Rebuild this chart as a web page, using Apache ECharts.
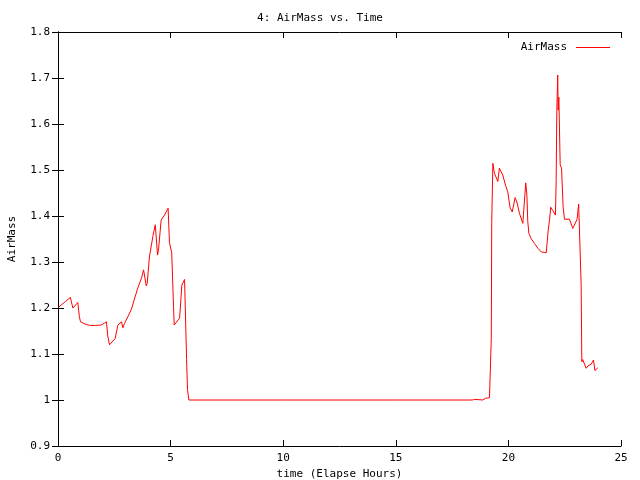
<!DOCTYPE html>
<html><head><meta charset="utf-8">
<script src="https://cdn.jsdelivr.net/npm/echarts@6/dist/echarts.min.js"></script>
<style>html,body{margin:0;padding:0;background:#fff}#c{width:640px;height:480px}</style>
</head><body><div id="c"></div>
<script>
const hours = [0.02,0.33,0.55,0.66,0.88,0.95,1.0,1.25,1.45,1.5,1.62,1.92,2.06,2.15,2.21,2.29,2.54,2.66,2.82,2.88,2.95,3.25,3.54,3.72,3.8,3.92,3.96,4.06,4.21,4.32,4.42,4.46,4.58,4.73,4.89,4.95,5.05,5.13,5.16,5.4,5.5,5.62,5.65,5.71,5.75,5.81,
  10.0,15.0,18.4,18.49,18.55,18.86,18.98,19.16,19.24,19.26,19.31,19.38,19.53,19.6,19.75,19.87,19.97,20.08,20.17,20.3,20.39,20.49,20.64,20.68,20.77,20.82,20.86,20.91,21.01,21.16,21.31,21.46,21.68,21.77,21.83,21.88,21.97,22.09,22.12,22.15,22.19,22.21,22.24,22.30,22.36,22.43,22.49,22.71,22.76,22.86,23.05,23.12,23.2,23.23,23.26,23.3,23.45,23.53,23.68,23.78,23.84,23.97];
const airmass = [1.2015,1.214,1.223,1.20,1.212,1.181,1.170,1.164,1.162,1.166,1.162,1.163,1.167,1.17,1.139,1.12,1.134,1.163,1.17,1.157,1.166,1.196,1.243,1.267,1.283,1.248,1.253,1.311,1.355,1.381,1.315,1.325,1.391,1.402,1.417,1.342,1.32,1.203,1.163,1.178,1.25,1.262,1.204,1.088,1.023,1.0,
  1.0,1.0,1.0,1.0014,1.0,1.0,1.0036,1.005,1.134,1.386,1.5145,1.493,1.475,1.504,1.489,1.467,1.453,1.417,1.409,1.44,1.428,1.406,1.384,1.38,1.472,1.446,1.388,1.362,1.351,1.34,1.33,1.322,1.32,1.37,1.393,1.419,1.412,1.402,1.477,1.629,1.7065,1.63,1.658,1.511,1.504,1.42,1.393,1.393,1.395,1.373,1.393,1.426,1.422,1.252,1.083,1.088,1.069,1.074,1.078,1.087,1.064,1.07];
const xTicks = [0,5,10,15,20,25];
const yTicks = [0.9,1.0,1.1,1.2,1.3,1.4,1.5,1.6,1.7,1.8];

const FONT = 'DejaVu Sans Mono';
const chart = echarts.init(document.getElementById('c'));
const data = hours.map((h,i)=>[h, airmass[i]]);
const tick = (len)=>({show:true, inside:true, length:len, lineStyle:{color:'#000',width:1}});
chart.setOption({
  animation:false,
  textStyle:{fontFamily:FONT},
  title:{text:'4: AirMass vs. Time', left:'center', top:8,
    textStyle:{fontFamily:FONT, fontSize:11, fontWeight:'normal', color:'#000'}},
  legend:{data:[{name:'AirMass', icon:'rect'}], right:25, top:37, align:'right',
    itemWidth:34, itemHeight:1, itemGap:6,
    textStyle:{fontFamily:FONT, fontSize:11, color:'#000', padding:[0,4,0,0]}},
  grid:{left:58, right:19, top:32, bottom:34, containLabel:false, outerBoundsMode:'none'},
  xAxis:[{type:'value', min:0, max:25, interval:5, position:'bottom',
    name:'time (Elapse Hours)', nameLocation:'middle', nameGap:20,
    nameTextStyle:{fontFamily:FONT, fontSize:11, color:'#000'},
    axisLine:{show:true, lineStyle:{color:'#000',width:1}}, axisTick:tick(6),
    axisLabel:{color:'#000', fontFamily:FONT, fontSize:11, margin:7},
    splitLine:{show:false}},
   {type:'value', min:0, max:25, interval:5, position:'top',
    axisLine:{show:true, lineStyle:{color:'#000',width:1}}, axisTick:tick(6),
    axisLabel:{show:false}, splitLine:{show:false}}],
  yAxis:[{type:'value', min:0.9, max:1.8, interval:0.1, position:'left',
    name:'AirMass', nameLocation:'middle', nameGap:40, nameRotate:90,
    nameTextStyle:{fontFamily:FONT, fontSize:11, color:'#000'},
    axisLine:{show:true, lineStyle:{color:'#000',width:1}}, axisTick:tick(6),
    axisLabel:{color:'#000', fontFamily:FONT, fontSize:11, margin:8,
      formatter:v=>String(Math.round(v*10)/10)},
    splitLine:{show:false}},
   {type:'value', min:0.9, max:1.8, interval:0.1, position:'right',
    axisLine:{show:true, lineStyle:{color:'#000',width:1}}, axisTick:tick(6),
    axisLabel:{show:false}, splitLine:{show:false}}],
  series:[{name:'AirMass', type:'line', data:data, showSymbol:false, symbol:'none',
    lineStyle:{color:'#ff0000', width:1}, itemStyle:{color:'#ff0000'}}]
});
</script></body></html>
